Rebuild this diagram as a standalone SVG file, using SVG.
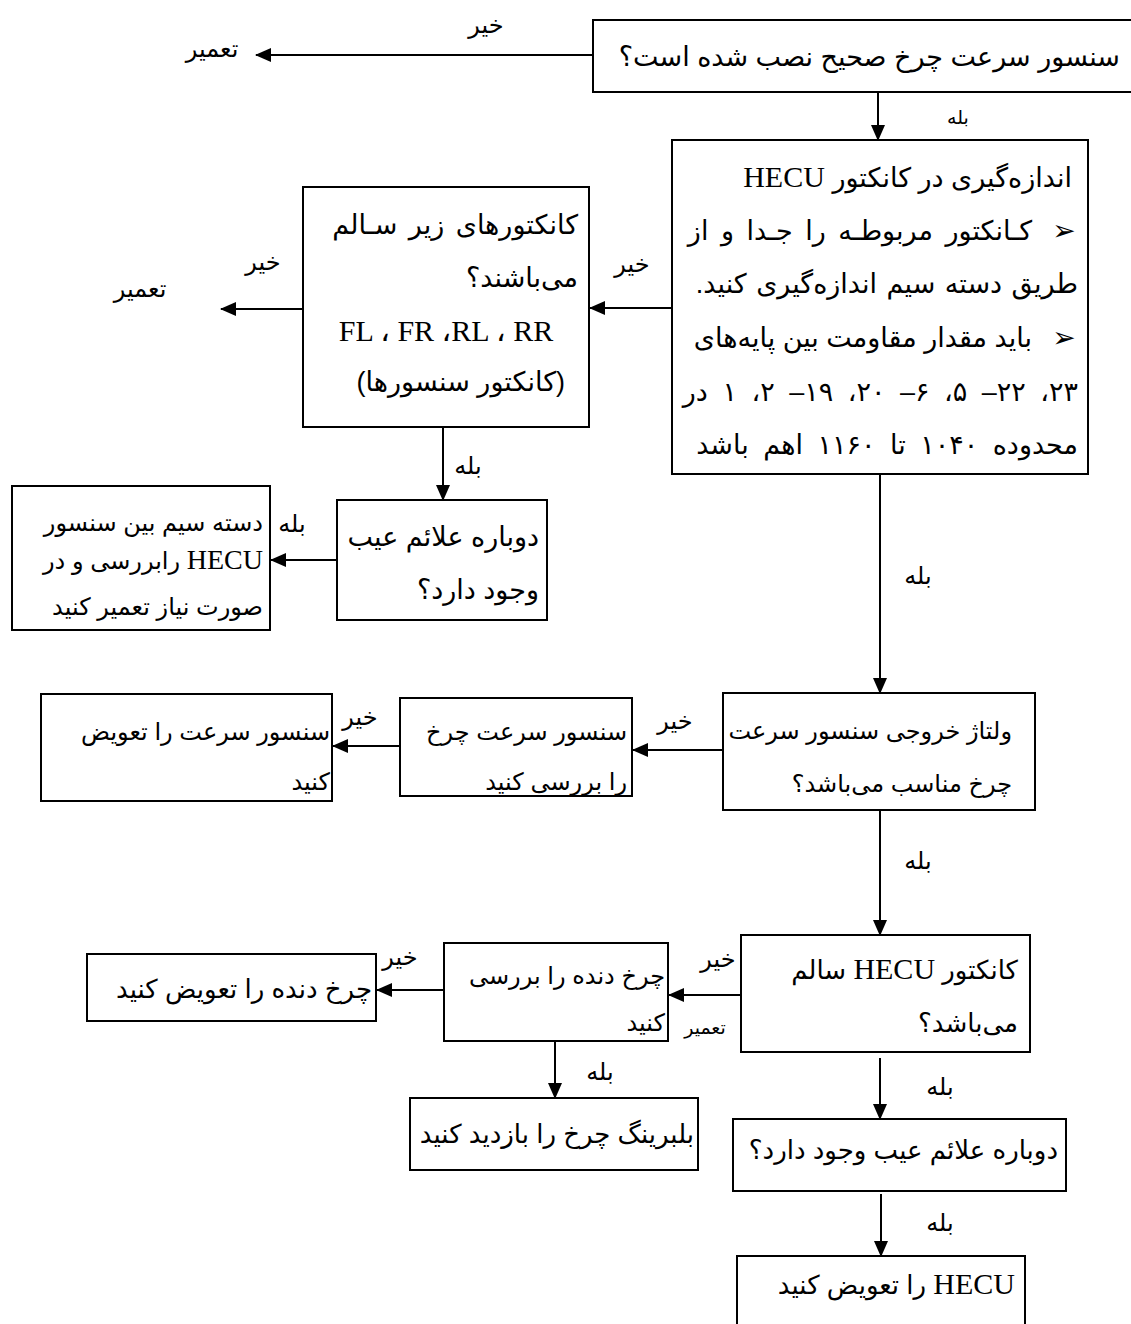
<svg xmlns="http://www.w3.org/2000/svg" width="1131" height="1324" viewBox="0 0 1131 1324">
<style>
rect.b{fill:#fff;stroke:#000;stroke-width:2}
.c line{stroke:#000;stroke-width:2;marker-end:url(#ah)}
text{font-family:'Liberation Sans','DejaVu Sans',sans-serif;fill:#000}
.t{font-size:24px;direction:rtl;text-anchor:start}
.lg{font-size:27px}
.md{font-size:26px}
.lb{font-size:24px;direction:rtl;text-anchor:middle}
.sm{font-size:19px;direction:rtl;text-anchor:middle}
.l{font-family:'Liberation Serif',serif;font-size:30px}
.bu{font-size:28px;direction:ltr;text-anchor:middle}
</style>
<defs>
<marker id="ah" viewBox="0 0 16 14" refX="15" refY="7" markerWidth="16" markerHeight="14" markerUnits="userSpaceOnUse" orient="auto">
<path d="M0,0 L16,7 L0,14 z" fill="#000"/>
</marker>
</defs>
<rect width="1131" height="1324" fill="#fff"/>

<g class="c" id="connectors">
<line x1="593" y1="55" x2="256" y2="55"/>
<line x1="878" y1="92" x2="878" y2="140"/>
<line x1="672" y1="308" x2="590" y2="308"/>
<line x1="303" y1="309" x2="221" y2="309"/>
<line x1="443" y1="427" x2="443" y2="500"/>
<line x1="337" y1="560" x2="271" y2="560"/>
<line x1="880" y1="474" x2="880" y2="693"/>
<line x1="723" y1="750" x2="633" y2="750"/>
<line x1="400" y1="746" x2="333" y2="746"/>
<line x1="880" y1="810" x2="880" y2="935"/>
<line x1="741" y1="995" x2="669" y2="995"/>
<line x1="444" y1="990" x2="377" y2="990"/>
<line x1="555" y1="1041" x2="555" y2="1098"/>
<line x1="880" y1="1058" x2="880" y2="1119"/>
<line x1="881" y1="1194" x2="881" y2="1256"/>
</g>

<g id="labels">
<text class="lb" x="486" y="33">خیر</text>
<text class="lb" x="212" y="57">تعمیر</text>
<text class="sm" x="958" y="124">بله</text>
<text class="lb" x="632" y="272">خیر</text>
<text class="lb" x="263" y="270">خیر</text>
<text class="lb" x="140" y="297">تعمیر</text>
<text class="lb" x="468" y="474">بله</text>
<text class="lb" x="292" y="532">بله</text>
<text class="lb" x="918" y="584">بله</text>
<text class="lb" x="675" y="729">خیر</text>
<text class="lb" x="360" y="725">خیر</text>
<text class="lb" x="918" y="869">بله</text>
<text class="lb" x="718" y="967">خیر</text>
<text class="sm" x="705" y="1034">تعمیر</text>
<text class="lb" x="400" y="965">خیر</text>
<text class="lb" x="600" y="1080">بله</text>
<text class="lb" x="940" y="1095">بله</text>
<text class="lb" x="940" y="1231">بله</text>
</g>

<g id="n1">
<rect class="b" x="593" y="20" width="550" height="72"/>
<text class="t lg" x="1120" y="66">سنسور سرعت چرخ صحیح نصب شده است؟</text>
</g>

<g id="n2">
<rect class="b" x="672" y="140" width="416" height="334"/>
<text class="t lg" x="1072" y="187">اندازه‌گیری در کانکتور <tspan class="l">HECU</tspan></text>
<text class="bu" x="1064" y="240">➢</text>
<text class="t lg" x="1032" y="240" style="word-spacing:5px">کـانکتور مربوطـه را جـدا و از</text>
<text class="t lg" x="1078" y="293" style="word-spacing:2px">طریق دسته سیم اندازه‌گیری کنید.</text>
<text class="bu" x="1064" y="347">➢</text>
<text class="t lg" x="1032" y="347">باید مقدار مقاومت بین پایه‌های</text>
<text class="t lg" x="1078" y="401" style="word-spacing:7px">۲۳، ۲۲– ۵، ۶– ۲۰، ۱۹– ۲، ۱ در</text>
<text class="t lg" x="1078" y="454" style="word-spacing:7px">محدوده ۱۰۴۰ تا ۱۱۶۰ اهم باشد</text>
</g>

<g id="n3">
<rect class="b" x="303" y="187" width="286" height="240"/>
<text class="t lg" x="578" y="234" style="word-spacing:4px">کانکتورهای زیر سـالم</text>
<text class="t lg" x="578" y="287">می‌باشند؟</text>
<text x="446" y="341" style="font-family:'Liberation Serif','DejaVu Sans',serif;font-size:30px;text-anchor:middle">FL ، FR ،RL ، RR</text>
<text class="t lg" x="565" y="391">(کانکتور سنسورها)</text>
</g>

<g id="n4">
<rect class="b" x="337" y="500" width="210" height="120"/>
<text class="t lg" x="539" y="546">دوباره علائم عیب</text>
<text class="t lg" x="539" y="599">وجود دارد؟</text>
</g>

<g id="n5">
<rect class="b" x="12" y="486" width="258" height="144"/>
<text class="t" x="263" y="531">دسته سیم بین سنسور</text>
<text class="t" x="263" y="569"><tspan class="l" style="font-size:28px">HECU</tspan> رابررسی و در</text>
<text class="t" x="263" y="615">صورت نیاز تعمیر کنید</text>
</g>

<g id="n6">
<rect class="b" x="723" y="693" width="312" height="117"/>
<text class="t" x="1012" y="739">ولتاژ خروجی سنسور سرعت</text>
<text class="t" x="1012" y="792">چرخ مناسب می‌باشد؟</text>
</g>

<g id="n7">
<rect class="b" x="400" y="698" width="232" height="98"/>
<text class="t" x="627" y="740">سنسور سرعت چرخ</text>
<text class="t" x="627" y="790">را بررسی کنید</text>
</g>

<g id="n8">
<rect class="b" x="41" y="694" width="291" height="107"/>
<text class="t" x="330" y="740">سنسور سرعت را تعویض</text>
<text class="t" x="330" y="790">کنید</text>
</g>

<g id="n9">
<rect class="b" x="741" y="935" width="289" height="117"/>
<text class="t md" x="1018" y="979">کانکتور <tspan class="l">HECU</tspan> سالم</text>
<text class="t md" x="1018" y="1032">می‌باشد؟</text>
</g>

<g id="n10">
<rect class="b" x="444" y="943" width="224" height="98"/>
<text class="t" x="665" y="984">چرخ دنده را بررسی</text>
<text class="t" x="665" y="1031">کنید</text>
</g>

<g id="n11">
<rect class="b" x="87" y="954" width="289" height="67"/>
<text class="t md" x="372" y="998">چرخ دنده را تعویض کنید</text>
</g>

<g id="n12">
<rect class="b" x="410" y="1098" width="288" height="72"/>
<text class="t md" x="694" y="1143">بلبرینگ چرخ را بازدید کنید</text>
</g>

<g id="n13">
<rect class="b" x="733" y="1119" width="333" height="72"/>
<text class="t md" x="1058" y="1159">دوباره علائم عیب وجود دارد؟</text>
</g>

<g id="n14">
<rect class="b" x="737" y="1256" width="288" height="80"/>
<text class="t md" x="1015" y="1294"><tspan class="l">HECU</tspan> را تعویض کنید</text>
</g>
</svg>
